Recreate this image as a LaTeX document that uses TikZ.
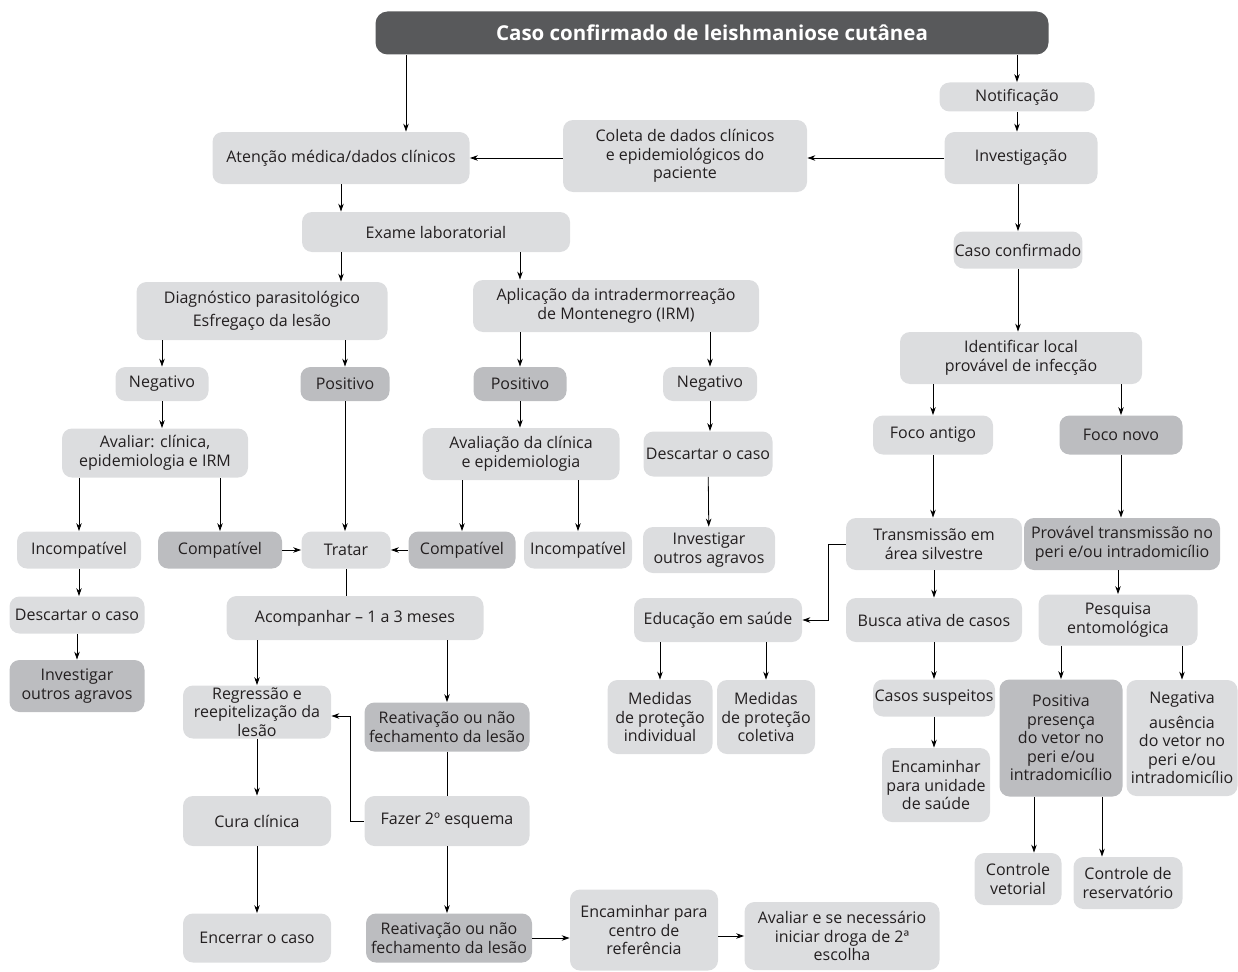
\documentclass[tikz,border=0pt]{standalone}
\usepackage{fontspec}
\setmainfont{Open Sans}
\usepackage{xcolor}
\usepackage{tikz}
\usetikzlibrary{positioning, arrows.meta}
\definecolor{boxlight}{RGB}{220,221,223}
\definecolor{boxdark}{RGB}{188,189,192}
\definecolor{headgray}{RGB}{88,89,91}
\definecolor{inkgray}{RGB}{35,31,32}

\begin{document}
\begin{tikzpicture}[x=1pt, y=-1pt, >={Stealth[length=8pt,width=5.5pt]}, line width=0.8pt,
    box/.style={rectangle, rounded corners=10pt, fill=boxlight, text=inkgray, align=center,
        inner sep=1pt, font=\fontsize{16}{18.5}\selectfont},
    dbox/.style={box, fill=boxdark},
    headbox/.style={rectangle, rounded corners=12pt, fill=headgray, text=white,
        font=\fontsize{20.5}{24}\selectfont\bfseries}]
    \useasboundingbox (0,0) rectangle (1238,971);
    % topo
    \node [headbox, minimum width=673, minimum height=43] (title) at (712,33) {Caso confirmado de leishmaniose cutânea};
    \node [box, minimum width=155, minimum height=29] (notif) at (1017,97) {Notificação};
    \node [box, minimum width=153, minimum height=52] (invest) at (1021,158) {Investigação};
    \node [box, minimum width=244, minimum height=72] (coleta) at (685,156) {Coleta de dados clínicos\\ e epidemiológicos do\\ paciente};
    \node [box, minimum width=257, minimum height=52] (atencao) at (341,158) {Atenção médica/dados clínicos};
    \node [box, minimum width=268, minimum height=40] (exame) at (436,232) {Exame laboratorial};
    % ramo do diagnóstico
    \node [box, minimum width=251, minimum height=58] (diag) at (262,311) {Diagnóstico parasitológico\\[5pt] Esfregaço da lesão};
    \node [box, minimum width=286, minimum height=52] (aplic) at (616,306) {Aplicação da intradermorreação\\ de Montenegro (IRM)};
    \node [box, minimum width=93, minimum height=34] (neg1) at (162,384) {Negativo};
    \node [dbox, minimum width=89, minimum height=34] (pos1) at (345,384) {Positivo};
    \node [dbox, minimum width=93, minimum height=34] (pos2) at (520,384) {Positivo};
    \node [box, minimum width=94, minimum height=34] (neg2) at (710,384) {Negativo};
    \node [box, minimum width=186, minimum height=49] (avaliar) at (155,453) {Avaliar: clínica,\\ epidemiologia e IRM};
    \node [box, minimum width=197, minimum height=52] (avaliacao) at (521,454) {Avaliação da clínica\\ e epidemiologia};
    \node [box, minimum width=129, minimum height=45] (descartarB) at (708,454) {Descartar o caso};
    \node [box, minimum width=132, minimum height=46] (investigarB) at (709,550) {Investigar\\ outros agravos};
    \node [box, minimum width=124, minimum height=37] (incomp1) at (79,550) {Incompatível};
    \node [dbox, minimum width=124, minimum height=37] (comp1) at (220,550) {Compatível};
    \node [box, minimum width=89, minimum height=37] (tratar) at (346,550) {Tratar};
    \node [dbox, minimum width=107, minimum height=37] (comp2) at (462,550) {Compatível};
    \node [box, minimum width=108, minimum height=37] (incomp2) at (578,550) {Incompatível};
    \node [box, minimum width=135, minimum height=37] (descartarA) at (77,615) {Descartar o caso};
    \node [dbox, minimum width=135, minimum height=52] (investigarA) at (77,686) {Investigar\\ outros agravos};
    % tratamento
    \node [box, minimum width=257, minimum height=44] (acomp) at (355,618) {Acompanhar – 1 a 3 meses};
    \node [box, minimum width=148, minimum height=53] (regressao) at (257,712) {Regressão e\\ reepitelização da\\ lesão};
    \node [dbox, minimum width=165, minimum height=49] (reativ1) at (447,727) {Reativação ou não\\ fechamento da lesão};
    \node [box, minimum width=165, minimum height=50] (fazer2) at (447,821) {Fazer 2º esquema};
    \node [box, minimum width=148, minimum height=50] (cura) at (257,821) {Cura clínica};
    \node [box, minimum width=148, minimum height=49] (encerrar) at (257,938) {Encerrar o caso};
    \node [dbox, minimum width=166, minimum height=49] (reativ2) at (449,938) {Reativação ou não\\ fechamento da lesão};
    \node [box, minimum width=148, minimum height=81] (encamCentro) at (644,930) {Encaminhar para\\ centro de\\ referência};
    \node [box, minimum width=195, minimum height=68] (avaliarDroga) at (842,936) {Avaliar e se necessário\\ iniciar droga de 2ª\\ escolha};
    % vigilância
    \node [box, minimum width=111, minimum height=37] (caso) at (1018,250) {Caso confirmado};
    \node [box, minimum width=242, minimum height=52] (identificar) at (1021,358) {Identificar local\\ provável de infecção};
    \node [box, minimum width=120, minimum height=39] (focoAnt) at (933,435) {Foco antigo};
    \node [dbox, minimum width=123, minimum height=39] (focoNovo) at (1121,435) {Foco novo};
    \node [box, minimum width=176, minimum height=52] (transm) at (934,544) {Transmissão em\\ área silvestre};
    \node [dbox, minimum width=196, minimum height=52] (provavel) at (1122,544) {Provável transmissão no\\ peri e/ou intradomicílio};
    \node [box, minimum width=168, minimum height=44] (educ) at (718,620) {Educação em saúde};
    \node [box, minimum width=176, minimum height=44] (busca) at (934,620) {Busca ativa de casos};
    \node [box, minimum width=159, minimum height=51] (pesquisa) at (1118,620) {Pesquisa\\ entomológica};
    \node [box, minimum width=105, minimum height=74] (medInd) at (660,717) {Medidas\\ de proteção\\ individual};
    \node [box, minimum width=98, minimum height=74] (medCol) at (766,717) {Medidas\\ de proteção\\ coletiva};
    \node [box, minimum width=122, minimum height=37] (casosSusp) at (934,698) {Casos suspeitos};
    \node [box, minimum width=108, minimum height=74] (encamUnid) at (936,785) {Encaminhar\\ para unidade\\ de saúde};
    \node [dbox, minimum width=123, minimum height=117] (positiva) at (1061,738) {Positiva\\ presença\\ do vetor no\\ peri e/ou\\ intradomicílio};
    \node [box, minimum width=111, minimum height=116] (negativa) at (1182,738) {Negativa\\[6pt] ausência\\ do vetor no\\ peri e/ou\\ intradomicílio};
    \node [box, minimum width=87, minimum height=52] (contVet) at (1018,879) {Controle\\ vetorial};
    \node [box, minimum width=109, minimum height=52] (contRes) at (1128,883) {Controle de\\ reservatório};
    \coordinate (atin) at ([xshift=65pt]atencao.north);
    \coordinate (pv) at ([xshift=-27pt]positiva.south);
    \coordinate (pr) at ([xshift=41pt]positiva.south);
    % conectores
    \draw [->] (title.south -| atin) -- (atin);
    \draw [->] (title.south -| notif) -- (notif);
    \draw [->] (notif) -- (notif |- invest.north);
    \draw [->] (invest.west) -- (invest.west -| coleta.east);
    \draw [->] (coleta.west |- atencao) -- (atencao.east);
    \draw [->] (atencao) -- (atencao |- exame.north);
    \draw [->] (exame.south -| atencao) -- (atencao |- diag.north);
    \draw [->] (exame.south -| pos2) -- (pos2 |- aplic.north);
    \draw [->] (diag.south -| neg1) -- (neg1);
    \draw [->] (diag.south -| pos1) -- (pos1);
    \draw [->] (aplic.south -| pos2) -- (pos2);
    \draw [->] (aplic.south -| neg2) -- (neg2);
    \draw [->] (neg1) -- (neg1 |- avaliar.north);
    \draw [->] (pos1) -- (pos1 |- tratar.north);
    \draw [->] (pos2) -- (pos2 |- avaliacao.north);
    \draw [->] (neg2) -- (neg2 |- descartarB.north);
    \draw [->] (descartarB) -- (investigarB);
    \draw [->] (avaliar.south -| incomp1) -- (incomp1);
    \draw [->] (avaliar.south -| comp1) -- (comp1);
    \draw [->] (avaliacao.south -| comp2) -- (comp2);
    \draw [->] (avaliacao.south -| incomp2) -- (incomp2);
    \draw [->] (comp1) -- (tratar);
    \draw [->] (comp2) -- (tratar);
    \draw [->] (incomp1) -- (incomp1 |- descartarA.north);
    \draw [->] (descartarA) -- (descartarA |- investigarA.north);
    \draw (tratar.south) -- (tratar.south |- acomp.north);
    \draw [->] (acomp.south -| regressao) -- (regressao);
    \draw [->] (acomp.south -| reativ1) -- (reativ1);
    \draw (reativ1) -- (fazer2);
    \draw [->] (fazer2.west) -- ++(-14,0) |- ([yshift=-4pt]regressao.east);
    \draw [->] (regressao) -- (cura);
    \draw [->] (cura) -- (encerrar);
    \draw [->] (fazer2) -- (fazer2 |- reativ2.north);
    \draw [->] (reativ2.east) -- (reativ2.east -| encamCentro.west);
    \draw [->] (encamCentro.east |- avaliarDroga.west) -- (avaliarDroga.west);
    \draw [->] (caso |- invest.south) -- (caso);
    \draw [->] (caso) -- (caso |- identificar.north);
    \draw [->] (identificar.south -| focoAnt) -- (focoAnt);
    \draw [->] (identificar.south -| focoNovo) -- (focoNovo);
    \draw [->] (focoAnt) -- (focoAnt |- transm.north);
    \draw [->] (focoNovo) -- (focoNovo |- provavel.north);
    \draw [->] (transm.west) -- ++(-17,0) |- (educ.east);
    \draw [->] (transm) -- (transm |- busca.north);
    \draw [->] (provavel.south -| pesquisa) -- (pesquisa);
    \draw [->] (educ.south -| medInd) -- (medInd);
    \draw [->] (educ.south -| medCol) -- (medCol);
    \draw [->] (busca) -- (busca |- casosSusp.north);
    \draw [->] (casosSusp) -- (casosSusp |- encamUnid.north);
    \draw [->] (pesquisa.south -| positiva) -- (positiva);
    \draw [->] (pesquisa.south -| negativa) -- (negativa);
    \draw [->] (pv) -- (pv |- contVet.north);
    \draw [->] (pr) -- (pr |- contRes.north);
\end{tikzpicture}
\end{document}
